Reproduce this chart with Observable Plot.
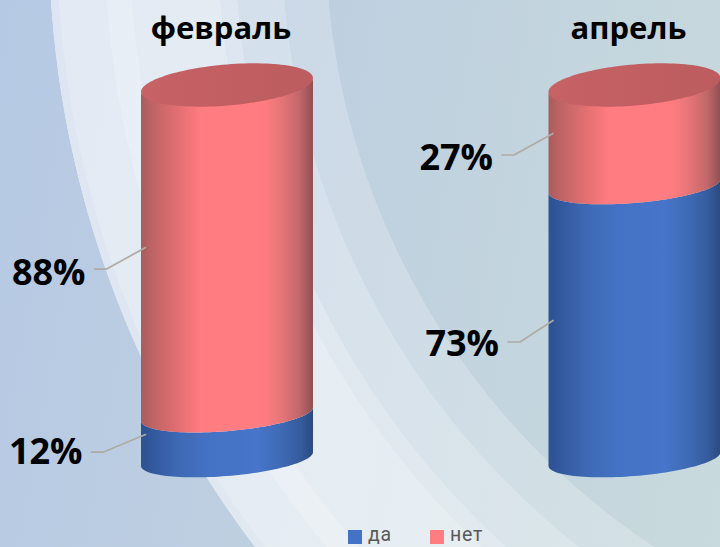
<!DOCTYPE html>
<html lang="ru">
<head>
<meta charset="utf-8">
<script src="https://cdn.jsdelivr.net/npm/d3@7"></script>
<script src="https://cdn.jsdelivr.net/npm/@observablehq/plot@0.6"></script>
<style>
  html, body { margin: 0; padding: 0; width: 720px; height: 547px; overflow: hidden; }
  body {
    font-family: "Open Sans", sans-serif;
    background:
      radial-gradient(circle at 1060px -65px,
        rgba(255,255,255,0) 0 734px,
        rgba(255,255,255,.22) 734.6px 778px,
        rgba(255,255,255,.37) 778.6px 825px,
        rgba(255,255,255,.5) 825.6px 842px,
        rgba(255,255,255,.6) 842.6px 930px,
        rgba(255,255,255,.68) 930.6px 955px,
        rgba(255,255,255,.6) 955.6px 1003px,
        rgba(255,255,255,.52) 1003.6px 1011px,
        rgba(255,255,255,0) 1011.6px),
      linear-gradient(100deg, #b6c9e4 0%, #bfd0e0 45%, #c8dadc 100%);
  }
  #legend { position: relative; height: 22px; font-family: Roboto, sans-serif; font-size: 19.5px; letter-spacing: .7px; line-height: 22px; color: #595959; }
  #legend i { position: absolute; top: 5px; width: 14px; height: 14px; }
  #legend span { position: absolute; top: -1px; }
</style>
</head>
<body>
<div id="chart"></div>
<div id="legend"></div>
<script>
const months = ["февраль", "апрель"];
const seriesNames = ["да", "нет"];
const yes = [12, 73];
const no = [88, 27];
const seriesColors = ["#4472c4", "#ff7c80"];

// Cylinder proportions, in scale units
const halfWidth = 0.211;   // x units
const tilt = 1.85;         // y units across half of the width
const rim = 4.55;          // y units, half height of an inner ellipse
const lidRim = 5.5;        // y units, half height of the lid

function front(i, level, h, sign = -1) {
  const pts = [];
  for (let a = 0; a <= 180; a += 3) {
    const u = Math.cos(a * Math.PI / 180);
    pts.push({ i, u, x: i + halfWidth * u, y: level + tilt * u + sign * h * Math.sin(a * Math.PI / 180) });
  }
  return pts;
}
function band(i, from, to) {
  const lo = front(i, from, rim), hi = front(i, to, rim);
  return lo.map((p, k) => ({ x: p.x, y1: p.y, y2: hi[k].y, z: i }));
}
const yesBands = months.flatMap((m, i) => band(i, 0, yes[i]));
const noBands = months.flatMap((m, i) => band(i, yes[i], 100));
const lids = months.flatMap((m, i) => {
  const lo = front(i, 100, lidRim, -1), hi = front(i, 100, lidRim, 1);
  return lo.map((p, k) => ({ x: p.x, y1: p.y, y2: hi[k].y, z: i }));
});

// One leader and one label for each percentage
const pxX = 1 / 407.5, pxY = 1 / 3.74;
const labelNudgeX = [-3, 0, 6, 0];   // pixels: 12%, 88%, 73%, 27%
const elbowNudgeY = [4, 0, 0, 0];
const textNudgeY = [8, 0, 2, 1];
const labels = months.flatMap((m, i) => [
  { i, value: yes[i], mid: yes[i] / 2 },
  { i, value: no[i], mid: yes[i] + no[i] / 2 }
]).map((d, k) => ({ ...d, nx: labelNudgeX[k] * pxX, ey: elbowNudgeY[k] * pxY, ty: textNudgeY[k] * pxY }));
const leaders = labels.flatMap((d, k) => {
  const left = d.i - halfWidth;
  return [
    { k, x: left - 47 * pxX + d.nx, y: d.mid - 19 * pxY + d.ey },
    { k, x: left - 35 * pxX + d.nx, y: d.mid - 19 * pxY + d.ey },
    { k, x: left + 4 * pxX, y: d.mid + 2.5 * pxY }
  ];
});

function gradient(defs, id, stops) {
  const g = defs.append("linearGradient").attr("id", id).attr("x1", 0).attr("x2", 1).attr("y1", 0).attr("y2", 0);
  for (const [o, c] of stops) g.append("stop").attr("offset", o).attr("stop-color", c);
}
function gradients() {
  const defs = d3.create("svg:defs");
  gradient(defs, "gNet", [[0, "#a85c5e"], [.06, "#bd6365"], [.23, "#e67073"], [.35, "#ff7c80"], [.72, "#ff7c80"], [.81, "#e87578"], [.92, "#c2686b"], [1, "#8f5052"]]);
  gradient(defs, "gDa", [[0, "#2d5190"], [.08, "#335a9f"], [.22, "#3e69b5"], [.4, "#4472c4"], [.68, "#4675c9"], [.82, "#3e69b4"], [.93, "#345b9c"], [1, "#2a4a80"]]);
  gradient(defs, "gLid", [[0, "#c76266"], [.6, "#c05e61"], [1, "#bd5d60"]]);
  return defs.node();
}

const chart = Plot.plot({
  width: 720,
  height: 525,
  margin: 0,
  style: { background: "transparent", overflow: "visible" },
  x: { axis: null, domain: [0, 1], range: [227, 634.5] },
  y: { axis: null, domain: [0, 100], range: [459, 85] },
  marks: [
    gradients,
    Plot.areaY(yesBands, { x: "x", y1: "y1", y2: "y2", z: "z", fill: "url(#gDa)" }),
    Plot.areaY(noBands, { x: "x", y1: "y1", y2: "y2", z: "z", fill: "url(#gNet)" }),
    Plot.areaY(lids, { x: "x", y1: "y1", y2: "y2", z: "z", fill: "url(#gLid)" }),
    Plot.line(leaders, { x: "x", y: "y", z: "k", stroke: "#aeaba6", strokeWidth: 1.7 }),
    Plot.text(labels, {
      x: d => d.i - halfWidth - 47 * pxX + d.nx,
      y: d => d.mid - 23 * pxY + d.ty,
      text: d => d.value + "%",
      textAnchor: "end", dx: -9,
      fontFamily: "Open Sans", fontWeight: 700, fontSize: 36, fill: "#000"
    }),
    Plot.text(months, {
      x: (d, i) => i, y: () => 115,
      text: d => d,
      dx: -6.5,
      fontFamily: "Open Sans", fontWeight: 700, fontSize: 31, fill: "#000"
    })
  ]
});
document.getElementById("chart").append(chart);

const legend = document.getElementById("legend");
const legendX = [[348, 368], [430, 450]];
seriesNames.forEach((name, i) => {
  const sw = document.createElement("i");
  sw.style.left = legendX[i][0] + "px";
  sw.style.background = seriesColors[i];
  const t = document.createElement("span");
  t.style.left = legendX[i][1] + "px";
  t.textContent = name;
  legend.append(sw, t);
});
</script>
</body>
</html>
